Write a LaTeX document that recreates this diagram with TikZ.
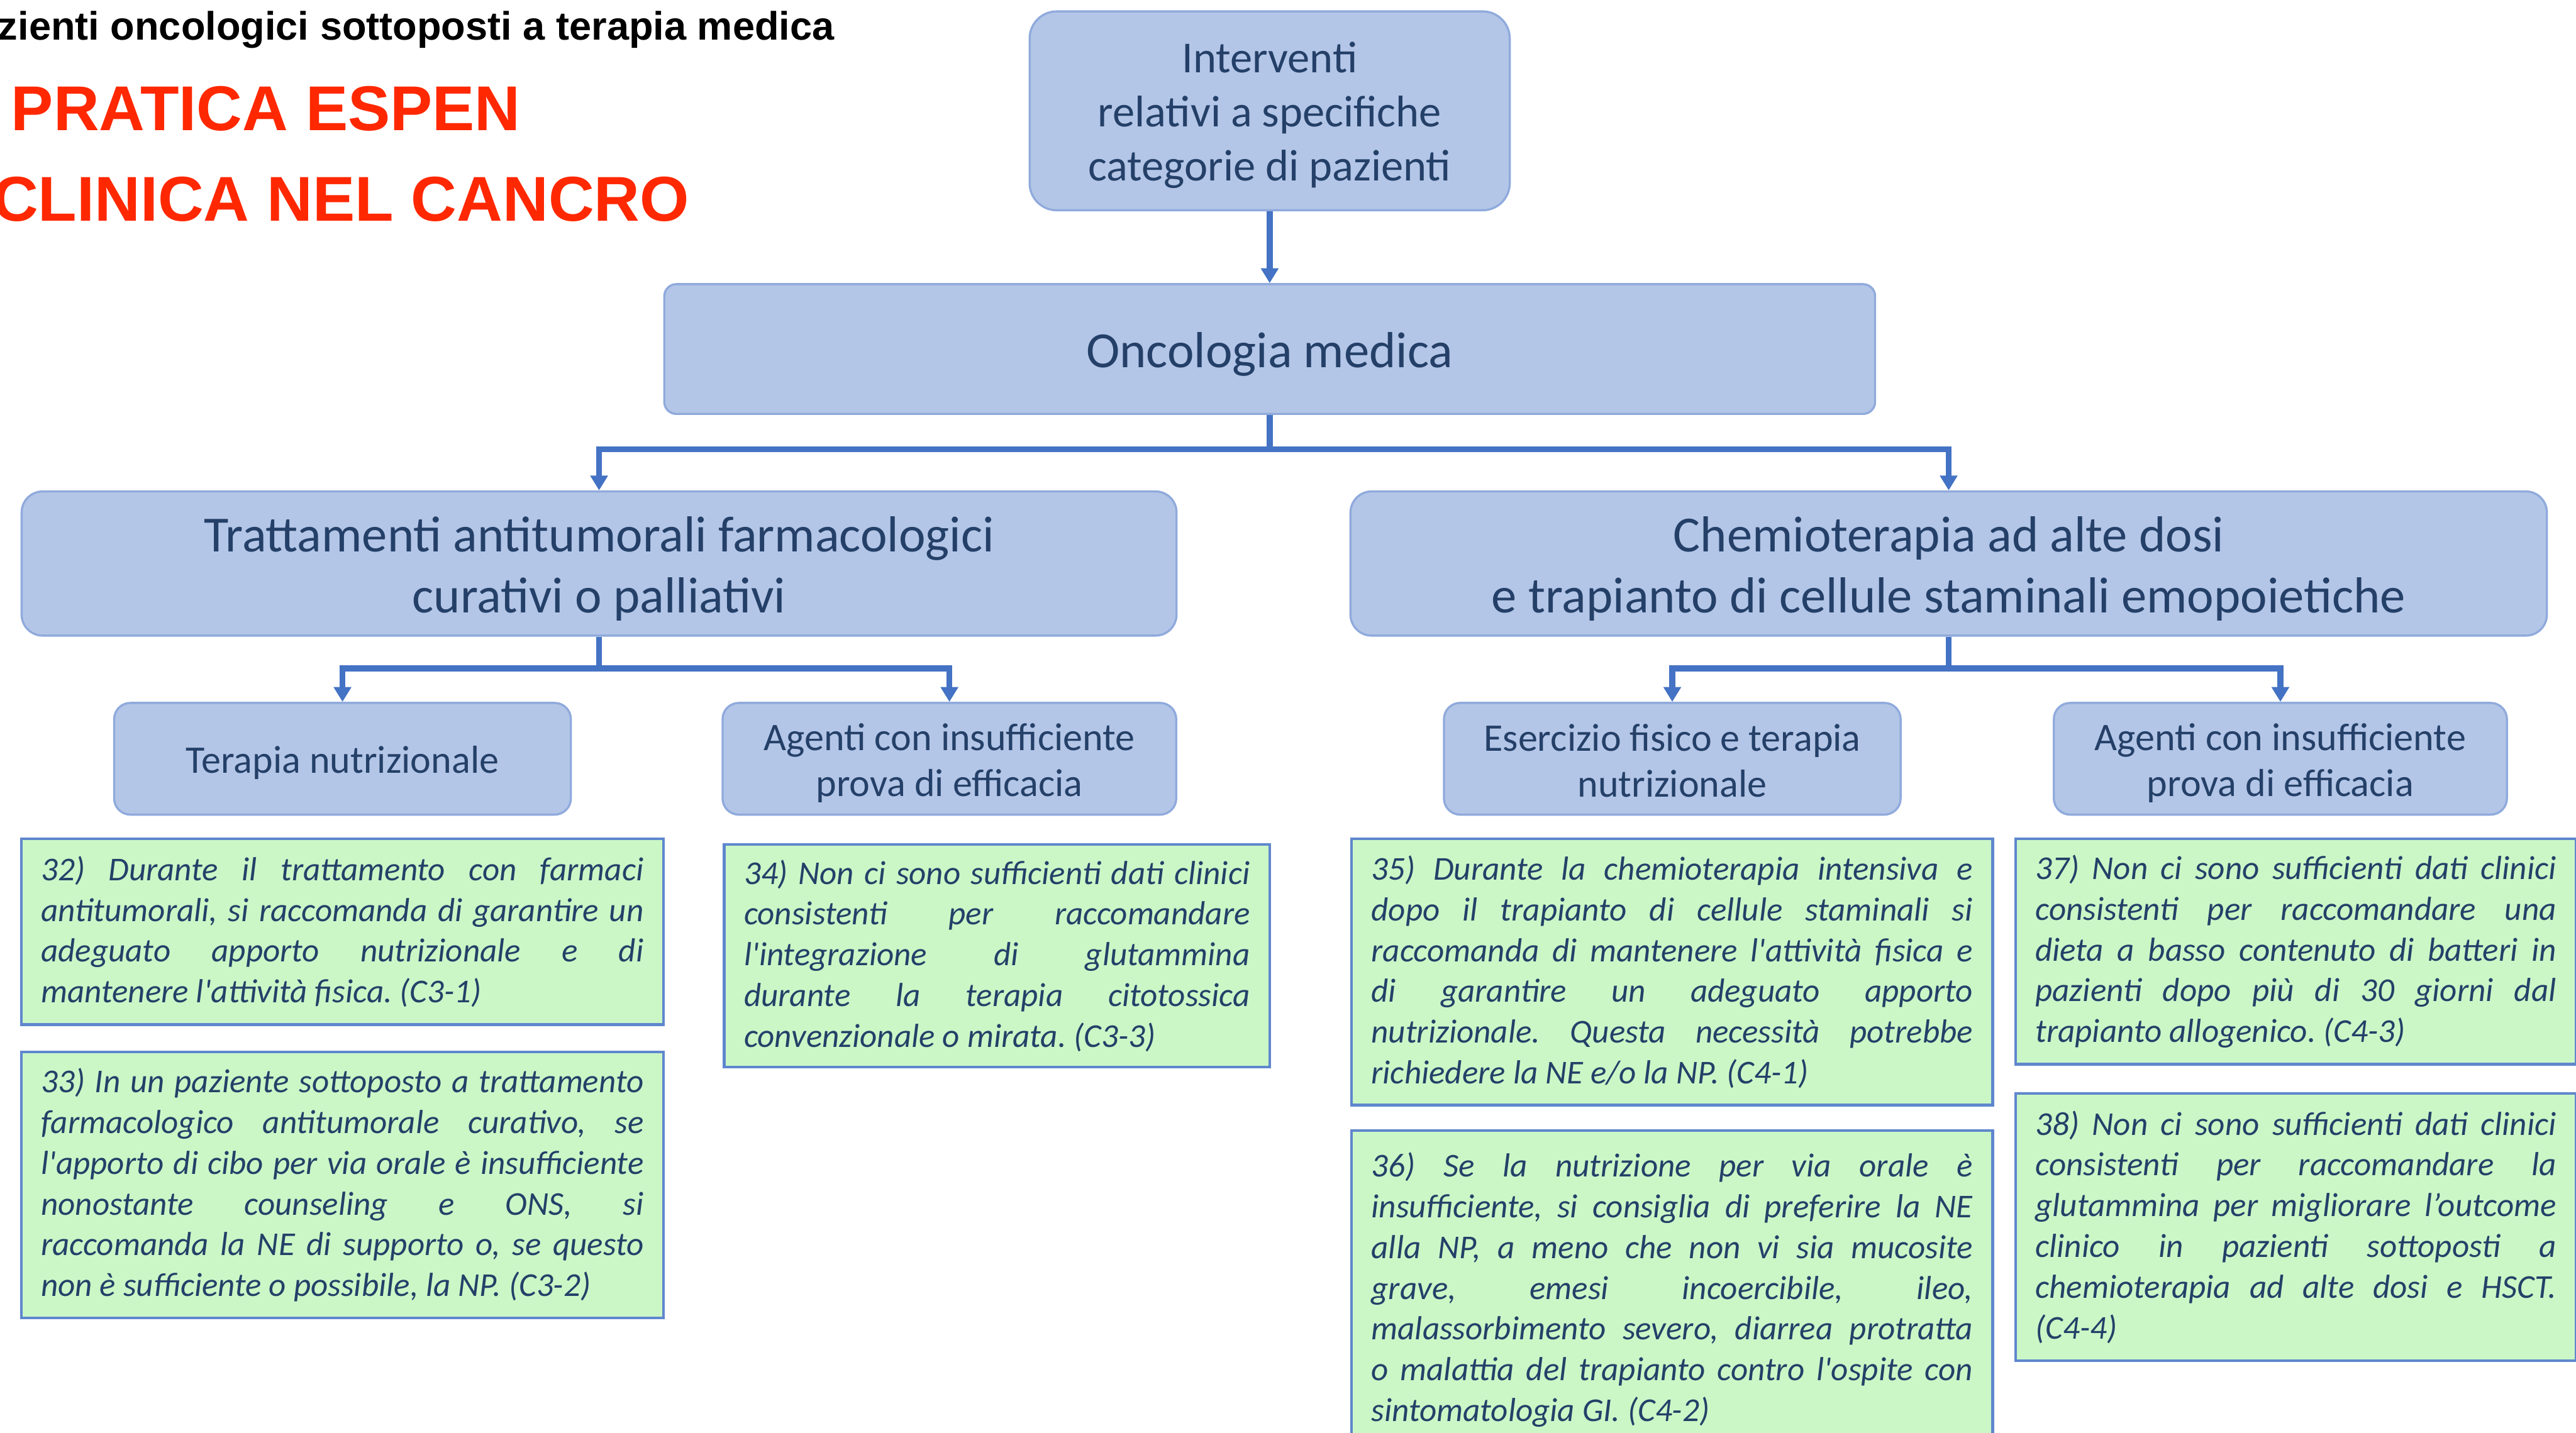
\documentclass[tikz,border=0pt]{standalone}
\usepackage{fontspec}
\setmainfont{Carlito}
\newfontfamily\arialfont{Liberation Sans}
\usetikzlibrary{arrows.meta,positioning}
\definecolor{boxfill}{RGB}{180,198,231}
\definecolor{boxline}{RGB}{143,170,220}
\definecolor{boxtext}{RGB}{36,64,104}
\definecolor{recfill}{RGB}{203,247,199}
\definecolor{recline}{RGB}{95,135,205}
\definecolor{linkblue}{RGB}{68,114,196}
\definecolor{espenred}{RGB}{255,40,0}
\newcommand{\ap}{\textquotesingle}
\newcommand{\strutup}{\rule{0pt}{0.9em}}
\tolerance=10000
\hbadness=10000
\hyphenpenalty=10000
\frenchspacing
\tikzset{
    link/.style = {draw=linkblue, line width=2.8pt, -{Triangle[length=7pt,width=8pt]}},
    catbox/.style = {rectangle, rounded corners=0.35cm, draw=boxline, fill=boxfill, line width=1pt,
                     text=boxtext, align=center, inner sep=0pt},
    bigcat/.style = {catbox, font=\fontsize{24}{28.8}\selectfont},
    smallcat/.style = {catbox, rounded corners=0.27cm, minimum width=7.6cm, minimum height=1.86cm,
                       font=\fontsize{18.5}{21.8}\selectfont},
    recbox/.style = {rectangle, draw=recline, fill=recfill, line width=1.3pt, text=boxtext,
                     align=justify, inner xsep=0.33cm, inner ysep=0pt, anchor=north west,
                     font=\itshape\fontsize{15.8}{19.3}\selectfont},
    heading/.style = {font=\arialfont\bfseries\fontsize{30}{36}\selectfont, text=espenred,
                      anchor=base east, inner sep=0pt},
    subhead/.style = {font=\arialfont\bfseries\fontsize{18.8}{22}\selectfont, anchor=base east, inner sep=0pt}
}

\begin{document}
\begin{tikzpicture}
    \useasboundingbox (0,0) rectangle (42.87,-23.85);

    % titolo
    \node[subhead] (sub) at (13.89,-0.66) {zienti oncologici sottoposti a terapia medica};
    \node[heading] (head1) at (8.67,-2.17) {PRATICA ESPEN};
    \node[heading] (head2) at (11.48,-3.68) {CLINICA NEL CANCRO};

    % categorie
    \node[catbox, rounded corners=0.45cm, minimum width=7.99cm, minimum height=3.31cm,
          font=\fontsize{21}{25.6}\selectfont] (interv) at (21.13,-1.845)
          {\strutup Interventi\\relativi a specifiche\\categorie di pazienti};
    \node[bigcat, rounded corners=0.2cm, minimum width=20.15cm, minimum height=2.16cm] (onco) at (21.13,-5.81) {\strutup Oncologia medica};
    \node[bigcat, minimum width=19.22cm, minimum height=2.4cm] (tratt) at (9.97,-9.38)
          {\strutup Trattamenti antitumorali farmacologici\\curativi o palliativi};
    \node[bigcat, minimum width=19.91cm, minimum height=2.4cm] (chemio) at (32.43,-9.38)
          {\strutup Chemioterapia ad alte dosi\\e trapianto di cellule staminali emopoietiche};
    \node[smallcat] (tnut) at (5.70,-12.63) {\strutup Terapia nutrizionale};
    \node[smallcat, minimum width=7.55cm] (agl) at (15.80,-12.63) {\strutup Agenti con insufficiente\\prova di efficacia};
    \node[smallcat] (eser) at (27.83,-12.63) {\rule{0pt}{0.8em}Esercizio fisico e terapia\\nutrizionale};
    \node[smallcat, minimum width=7.54cm] (agr) at (37.95,-12.63) {\strutup Agenti con insufficiente\\prova di efficacia};

    \path (interv) edge[link] (onco);
    \draw[link] (onco.south) -- ++(0,-0.57) -| (tratt.north);
    \draw[link] (onco.south) -- ++(0,-0.57) -| (chemio.north);
    \draw[link] (tratt.south) -- ++(0,-0.53) -| (tnut.north);
    \draw[link] (tratt.south) -- ++(0,-0.53) -| (agl.north);
    \draw[link] (chemio.south) -- ++(0,-0.53) -| (eser.north);
    \draw[link] (chemio.south) -- ++(0,-0.53) -| (agr.north);

    % raccomandazioni
    \node[recbox, text width=10.03cm, minimum height=3.09cm] (r32) at (0.33,-13.94)
          {32) Durante il trattamento con farmaci\linebreak
           antitumorali, si raccomanda di garantire un\linebreak
           adeguato apporto nutrizionale e di\linebreak
           mantenere l\ap attività fisica. (C3-1)};
    \node[recbox, text width=10.03cm, minimum height=4.43cm, below=0.41cm of r32] (r33)
          {33) In un paziente sottoposto a trattamento\linebreak
           farmacologico antitumorale curativo, se\linebreak
           l\ap apporto di cibo per via orale è insufficiente\linebreak
           nonostante counseling e ONS, si\linebreak
           raccomanda la NE di supporto o, se questo\linebreak
           non è sufficiente o possibile, la NP. (C3-2)};
    \node[recbox, text width=8.42cm, minimum height=3.71cm] (r34) at (12.03,-14.03)
          {34) Non ci sono sufficienti dati clinici\linebreak
           consistenti per raccomandare\linebreak
           l\ap integrazione di glutammina\linebreak
           durante la terapia citotossica\linebreak
           convenzionale o mirata. (C3-3)};
    \node[recbox, text width=10.01cm, minimum height=4.43cm] (r35) at (22.47,-13.94)
          {35) Durante la chemioterapia intensiva e\linebreak
           dopo il trapianto di cellule staminali si\linebreak
           raccomanda di mantenere l\ap attività fisica e\linebreak
           di garantire un adeguato apporto\linebreak
           nutrizionale. Questa necessità potrebbe\linebreak
           richiedere la NE e/o la NP. (C4-1)};
    \node[recbox, text width=10.01cm, minimum height=5.3cm, below=0.38cm of r35] (r36)
          {36) Se la nutrizione per via orale è\linebreak
           insufficiente, si consiglia di preferire la NE\linebreak
           alla NP, a meno che non vi sia mucosite\linebreak
           grave, emesi incoercibile, ileo,\linebreak
           malassorbimento severo, diarrea protratta\linebreak
           o malattia del trapianto contro l\ap ospite con\linebreak
           sintomatologia GI. (C4-2)};
    \node[recbox, text width=8.67cm, minimum height=3.75cm] (r37) at (33.52,-13.94)
          {37) Non ci sono sufficienti dati clinici\linebreak
           consistenti per raccomandare una\linebreak
           dieta a basso contenuto di batteri in\linebreak
           pazienti dopo più di 30 giorni dal\linebreak
           trapianto allogenico. (C4-3)};
    \node[recbox, text width=8.67cm, minimum height=4.45cm, below=0.44cm of r37] (r38)
          {38) Non ci sono sufficienti dati clinici\linebreak
           consistenti per raccomandare la\linebreak
           glutammina per migliorare l’outcome\linebreak
           clinico in pazienti sottoposti a\linebreak
           chemioterapia ad alte dosi e HSCT.\linebreak
           (C4-4)};
\end{tikzpicture}
\end{document}
